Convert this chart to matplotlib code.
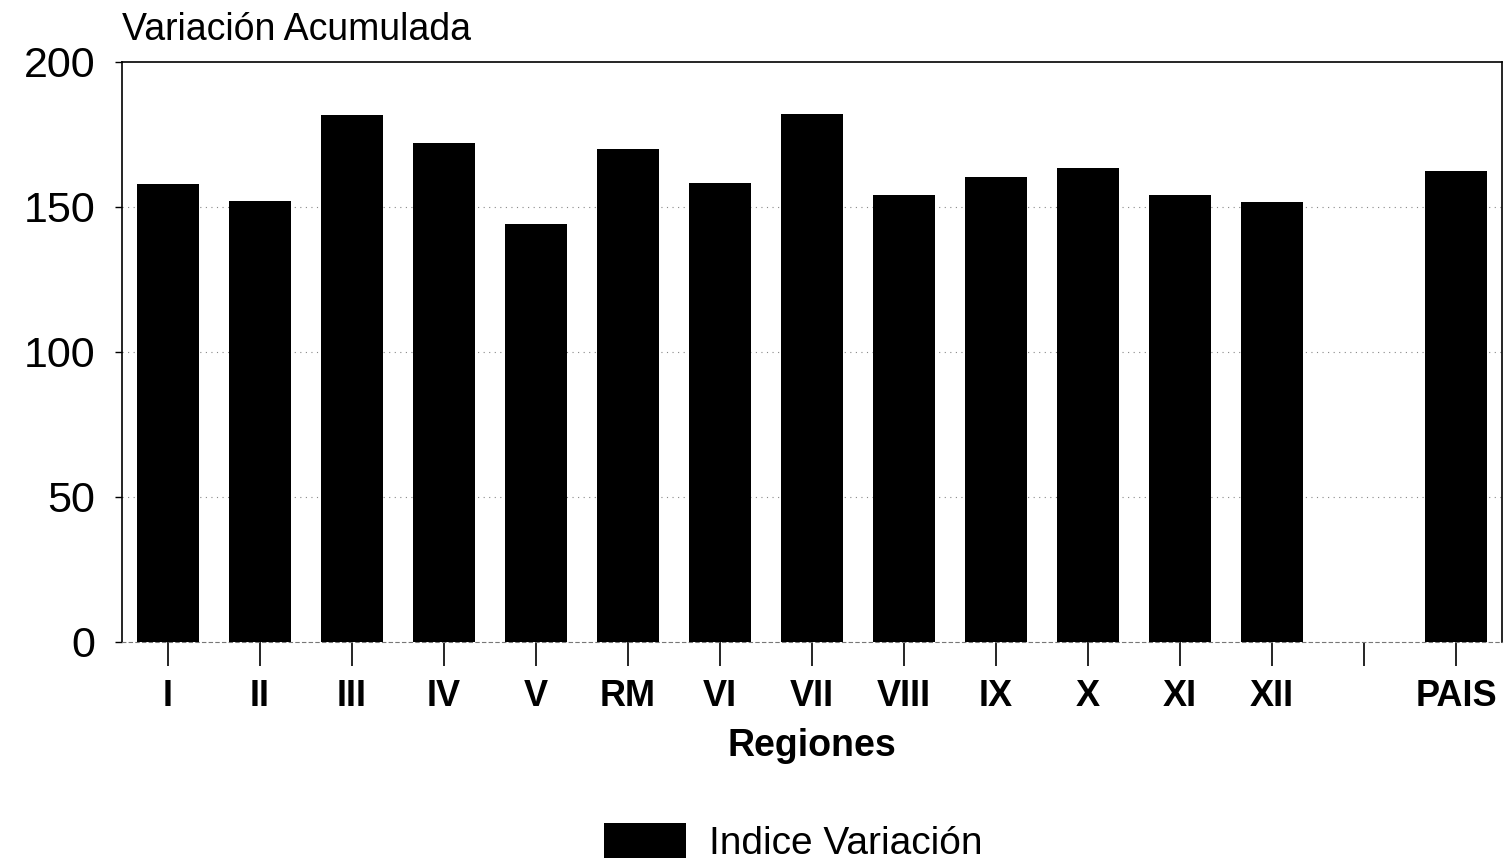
import matplotlib
matplotlib.use("Agg")
import matplotlib.pyplot as plt
import numpy as np

plt.rcParams["font.family"] = ["Liberation Sans", "DejaVu Sans"]

# Variación acumulada por región
regions = ["I", "II", "III", "IV", "V", "RM", "VI", "VII", "VIII", "IX", "X", "XI", "XII", "", "PAIS"]
values = [157.9, 152.1, 181.7, 172.1, 144.1, 170.0, 158.3, 182.1, 154.1, 160.3, 163.4, 154.1, 151.7, np.nan, 162.4]
y_ticks = [0, 50, 100, 150, 200]

fig = plt.figure(figsize=(15.05, 8.68), dpi=100)
ax = fig.add_axes([0.081, 0.2604, 0.917, 0.6682])

x = np.arange(len(regions))
bars = ax.bar(x, values, width=0.67, color="black", label="Indice Variación", zorder=3)

ax.set_xlim(-0.5, len(regions) - 0.5)
ax.set_ylim(0, 200)
ax.set_yticks(y_ticks)
ax.set_yticklabels([str(v) for v in y_ticks], fontsize=31)
ax.set_xticks(x)
ax.set_xticklabels(regions, fontsize=26, fontweight="bold")
ax.tick_params(axis="x", length=17, width=1.2, pad=10)
ax.tick_params(axis="y", length=5, width=1, pad=14)

for v in y_ticks[1:-1]:
    ax.axhline(v, color="#888888", lw=0.8, ls=(0, (1, 4)), zorder=1)

for side in ("top", "right", "left"):
    ax.spines[side].set_linewidth(1.2)
ax.spines["bottom"].set_linestyle((0, (3, 3)))
ax.spines["bottom"].set_color("#777777")
ax.spines["bottom"].set_linewidth(0.8)

ax.set_xlabel("Regiones", fontsize=27, fontweight="bold", labelpad=10)
fig.text(0.081, 0.954, "Variación Acumulada", fontsize=27, ha="left", va="baseline")

fig.legend(handles=[bars], loc="center", bbox_to_anchor=(0.527, 0.029), frameon=False,
           fontsize=28, handlelength=2.1, handleheight=1.0, handletextpad=0.6)

fig.savefig("out.png", dpi=100)
